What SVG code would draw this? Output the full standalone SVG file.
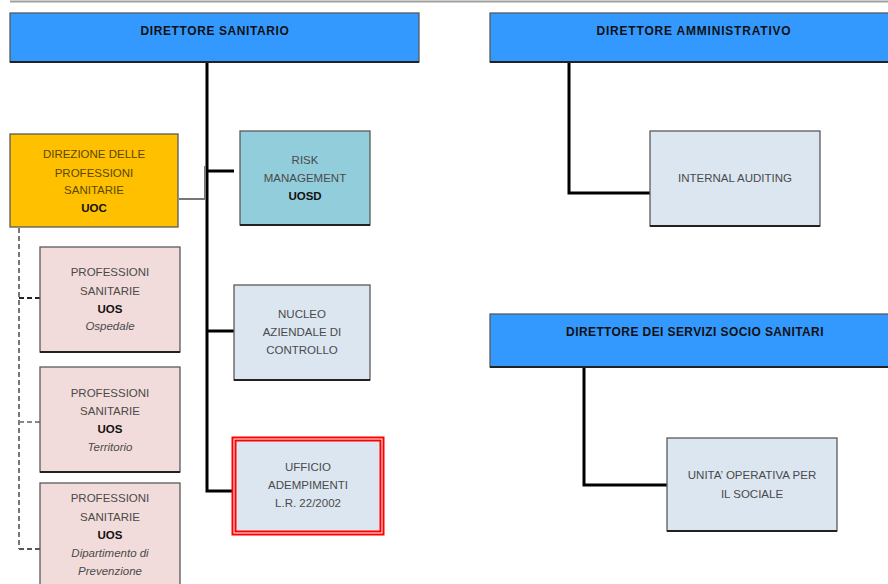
<svg xmlns="http://www.w3.org/2000/svg" width="888" height="584" viewBox="0 0 888 584">
<style>
.box{stroke:#5a5a5a;stroke-width:1.3}
.dir{fill:#3399ff}
.lt{fill:#dce6f1}
.pk{fill:#f2dcdb}
.sh{stroke:#222;stroke-width:2;fill:none}
text{font-family:"Liberation Sans",Arial,sans-serif;font-size:11.5px;fill:#4a4a4a;text-anchor:middle}
.h{font-weight:bold;font-size:12px;fill:#111}
.b{font-weight:bold;fill:#111}
.i{font-style:italic}
.c{stroke:#000;stroke-width:3;fill:none}
.g{stroke:#777;stroke-width:2;fill:none}
.d{stroke-width:2;fill:none;stroke-dasharray:5,3}
</style>
<rect width="888" height="584" fill="#fff"/>
<line x1="10" y1="1.5" x2="888" y2="1.5" stroke="#a0a0a0" stroke-width="2"/>
<g id="connectors">
<path class="c" d="M207,62 V491 H233"/>
<path class="c" d="M207,171 H234"/>
<path class="c" d="M207,331 H234"/>
<path class="g" d="M179,199 H205 V166"/>
<path class="c" d="M569,62 V193 H650"/>
<path class="c" d="M584,367 V485 H667"/>
<path class="d" stroke="#777" d="M19,228 V549"/>
<path class="d" stroke="#222" d="M19,298 H40"/>
<path class="d" stroke="#888" d="M19,422 H40"/>
<path class="d" stroke="#555" d="M19,549 H40"/>
</g>
<g id="direttore-sanitario">
<rect class="box dir" x="10" y="13" width="409" height="49"/>
<line class="sh" x1="10" y1="62" x2="419" y2="62" stroke="#444"/>
<text class="h" x="215" y="35" style="letter-spacing:0.6px">DIRETTORE SANITARIO</text>
</g>
<g id="direttore-amministrativo">
<rect class="box dir" x="490" y="13" width="410" height="49"/>
<line class="sh" x1="490" y1="62" x2="900" y2="62" stroke="#444"/>
<text class="h" x="694" y="35" style="letter-spacing:0.8px">DIRETTORE AMMINISTRATIVO</text>
</g>
<g id="direttore-servizi">
<rect class="box dir" x="490" y="314" width="410" height="53"/>
<line class="sh" x1="490" y1="367" x2="900" y2="367" stroke="#444"/>
<text class="h" x="695" y="336" style="letter-spacing:0.4px">DIRETTORE DEI SERVIZI SOCIO SANITARI</text>
</g>
<g id="direzione-professioni">
<rect class="box" x="10" y="134" width="168" height="93" fill="#ffc000"/>
<text x="94" y="158" style="fill:#5a4800">DIREZIONE DELLE</text>
<text x="94" y="177" style="fill:#5a4800">PROFESSIONI</text>
<text x="94" y="194" style="fill:#5a4800">SANITARIE</text>
<text class="b" x="94" y="212">UOC</text>
</g>
<g id="risk-management">
<rect class="box" x="240" y="131" width="130" height="94" fill="#92cddc"/>
<line class="sh" x1="240" y1="225" x2="370" y2="225"/>
<text x="305" y="164">RISK</text>
<text x="305" y="182">MANAGEMENT</text>
<text class="b" x="305" y="200">UOSD</text>
</g>
<g id="nucleo">
<rect class="box lt" x="234" y="285" width="136" height="95"/>
<line class="sh" x1="234" y1="380" x2="370" y2="380"/>
<text x="302" y="318">NUCLEO</text>
<text x="302" y="336">AZIENDALE DI</text>
<text x="302" y="354">CONTROLLO</text>
</g>
<g id="ufficio-adempimenti">
<rect x="232.5" y="437.5" width="151" height="97" fill="none" stroke="#ff0000" stroke-width="2"/>
<rect x="235.5" y="440.5" width="145" height="91" class="lt" stroke="#ff0000" stroke-width="2"/>
<text x="308" y="471">UFFICIO</text>
<text x="308" y="489">ADEMPIMENTI</text>
<text x="308" y="507">L.R. 22/2002</text>
</g>
<g id="internal-auditing">
<rect class="box lt" x="650" y="131" width="170" height="95"/>
<line class="sh" x1="650" y1="226" x2="820" y2="226" stroke="#333"/>
<text x="735" y="182">INTERNAL AUDITING</text>
</g>
<g id="unita-sociale">
<rect class="box lt" x="667" y="438" width="170" height="93"/>
<line class="sh" x1="667" y1="531" x2="837" y2="531"/>
<text x="752" y="479">UNITA’ OPERATIVA PER</text>
<text x="752" y="498">IL SOCIALE</text>
</g>
<g id="uos-ospedale">
<rect class="box pk" x="40" y="247" width="140" height="105"/>
<line class="sh" x1="40" y1="352" x2="180" y2="352" stroke="#333"/>
<text x="110" y="276">PROFESSIONI</text>
<text x="110" y="295">SANITARIE</text>
<text class="b" x="110" y="313">UOS</text>
<text class="i" x="110" y="330">Ospedale</text>
</g>
<g id="uos-territorio">
<rect class="box pk" x="40" y="367" width="140" height="105"/>
<line class="sh" x1="40" y1="472" x2="180" y2="472"/>
<text x="110" y="397">PROFESSIONI</text>
<text x="110" y="415">SANITARIE</text>
<text class="b" x="110" y="433">UOS</text>
<text class="i" x="110" y="451">Territorio</text>
</g>
<g id="uos-prevenzione">
<rect class="box pk" x="40" y="483" width="140" height="110"/>
<text x="110" y="502">PROFESSIONI</text>
<text x="110" y="521">SANITARIE</text>
<text class="b" x="110" y="539">UOS</text>
<text class="i" x="110" y="557">Dipartimento di</text>
<text class="i" x="110" y="575">Prevenzione</text>
</g>
</svg>
